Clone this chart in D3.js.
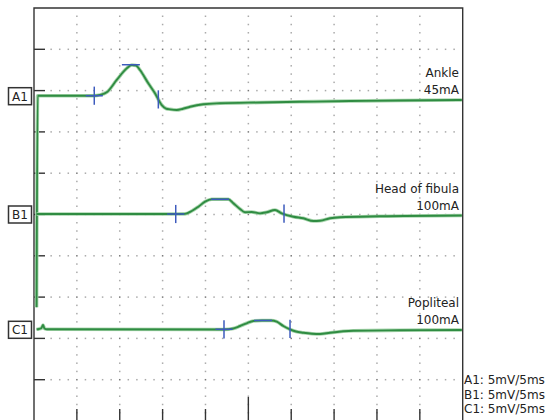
<!DOCTYPE html>
<html>
<head>
<meta charset="utf-8">
<script src="https://cdn.jsdelivr.net/npm/d3@7"></script>
<style>
  html, body { margin: 0; padding: 0; background: #fff; }
  svg { display: block; }
  text { font-family: "DejaVu Sans", Verdana, sans-serif; fill: #222; }
</style>
</head>
<body>
<svg id="chart" width="549" height="420"></svg>
<script>
// ---- Recorded waveforms: [time (ms), amplitude (mV)] ----
const ankleTrace = [
  [0.30, -25.6], [0.42, 0], [5.4, 0], [7.0, 0], [7.7, 0.1], [8.48, 0.41],
  [9.65, 1.91], [10.81, 3.31], [11.4, 3.71], [11.9, 3.66], [12.36, 3.11],
  [13.33, 1.5], [14.11, 0.29], [14.9, -1.13], [15.4, -1.55], [15.86, -1.65],
  [16.65, -1.74], [17.38, -1.58], [18.2, -1.34], [19.75, -1.04], [21.7, -0.92],
  [26.4, -0.82], [31.0, -0.74], [36.9, -0.65], [42.7, -0.58], [49.9, -0.52]
];
const fibulaTrace = [
  [0.3, 0], [16.53, 0], [17.61, 0.02], [18.4, 0.36], [19.17, 0.88],
  [19.95, 1.49], [20.73, 1.78], [22.67, 1.78], [23.25, 1.30], [24.03, 0.61],
  [24.61, 0.21], [25.39, 0.24], [26.36, 0.08], [27.14, 0.21], [28.11, 0.48],
  [28.89, 0.08], [30.25, -0.33], [31.41, -0.52], [32.58, -0.85], [33.36, -0.82],
  [34.53, -0.52], [35.69, -0.40], [40.36, -0.28], [49.9, -0.18]
];
const poplitealTrace = [
  [0.3, 0], [0.58, 0.04], [0.87, 0.16], [1.05, 0.52], [1.22, 0.1], [1.52, 0],
  [22.16, -0.02], [23.25, 0.10], [24.03, 0.40], [24.81, 0.73], [25.58, 1.01],
  [26.6, 1.07], [27.65, 1.07], [28.31, 0.92], [29.08, 0.40], [29.86, 0],
  [30.56, -0.27], [31.41, -0.41], [32.43, -0.53], [33.36, -0.57], [34.53, -0.41],
  [37.25, -0.18], [42.69, -0.12], [49.9, -0.08]
];

// ---- Cursor markers per channel: [time (ms), amplitude (mV)] ----
const onsetMarkers = [[7.03, 0], [16.53, 0], [22.16, 0]];
const peakMarkers  = [[11.3, 3.75], [21.7, 1.78], [26.71, 1.07]];
const endMarkers   = [[14.5, -0.45], [29.16, 0.04], [29.86, 0.06]];

// ---- Labels ----
const channelIds  = ["A1", "B1", "C1"];
const siteNames   = ["Ankle", "Head of fibula", "Popliteal"];
const stimLevels  = ["45mA", "100mA", "100mA"];
const gainLabels  = ["A1: 5mV/5ms", "B1: 5mV/5ms", "C1: 5mV/5ms"];
const traces      = [ankleTrace, fibulaTrace, poplitealTrace];

// ---- Layout ----
const svg = d3.select("#chart");
const plotLeft = 34, plotRight = 462.7, plotTop = 8, plotBottom = 421;
const divisions = 10;
const divH = (plotBottom - plotTop) / divisions;
const divW = (plotRight - plotLeft) / divisions;
const sweepMs = 50, mvPerDiv = 5;
const channelZero = [95.7, 214, 329.3];

const x = d3.scaleLinear().domain([0, sweepMs]).range([plotLeft, plotRight]);
const yScales = channelZero.map(z =>
  d3.scaleLinear().domain([0, mvPerDiv]).range([z, z - divH]));

// Dotted graticule: 5 minor dots per division
const gridG = svg.append("g");
for (let i = 1; i < divisions; i++) {
  const gx = plotLeft + i * divW;
  for (let j = 0; j <= divisions * 5; j++) {
    const gy = plotTop + j * divH / 5;
    if (gy <= plotTop + 1 || gy >= 420) continue;
    const major = j % 5 === 0;
    gridG.append("rect").attr("x", gx - 0.75).attr("y", gy - 0.75)
      .attr("width", 1.5).attr("height", 1.5)
      .attr("fill", major ? "#777" : "#aaa");
  }
}
for (let j = 1; j < divisions; j++) {
  const gy = plotTop + j * divH;
  for (let i = 1; i < divisions * 5; i++) {
    if (i % 5 === 0) continue;
    const gx = plotLeft + i * divW / 5;
    if (gx < plotLeft + 12) continue;
    gridG.append("rect").attr("x", gx - 0.75).attr("y", gy - 0.75)
      .attr("width", 1.5).attr("height", 1.5).attr("fill", "#aaa");
  }
}

// Frame
const frame = svg.append("g").attr("stroke", "#333").attr("fill", "none");
frame.append("path").attr("stroke-width", 1.4)
  .attr("d", `M${plotLeft},${plotBottom}V${plotTop}H${plotRight}V${plotBottom}H${plotLeft}`);

// Left ticks on each horizontal division
for (let j = 1; j < divisions; j++) {
  const gy = plotTop + j * divH;
  frame.append("line").attr("x1", plotLeft).attr("x2", plotLeft + 11)
    .attr("y1", gy).attr("y2", gy).attr("stroke-width", 1.4);
}
// Bottom ticks, centre tick longer
for (let i = 1; i < divisions; i++) {
  const gx = plotLeft + i * divW;
  frame.append("line").attr("x1", gx).attr("x2", gx)
    .attr("y1", i === 5 ? plotBottom - 24 : plotBottom - 12).attr("y2", plotBottom)
    .attr("stroke-width", 1.4);
}

// Traces
svg.append("clipPath").attr("id", "plotClip")
  .append("rect").attr("x", plotLeft).attr("y", plotTop)
  .attr("width", plotRight - plotLeft).attr("height", plotBottom - plotTop);
const traceG = svg.append("g").attr("clip-path", "url(#plotClip)");
traces.forEach((tr, k) => {
  const line = d3.line()
    .x(d => x(d[0])).y(d => yScales[k](d[1]))
    .curve(d3.curveMonotoneX);
  traceG.append("path").datum(tr).attr("d", line)
    .attr("fill", "none").attr("stroke", "#a8d5ad").attr("stroke-width", 3.6)
    .attr("stroke-linejoin", "round");
  traceG.append("path").datum(tr).attr("d", line)
    .attr("fill", "none").attr("stroke", "#2f8c42").attr("stroke-width", 1.9)
    .attr("stroke-linejoin", "round");
});

// Cursors
const markG = svg.append("g").attr("stroke", "#3d5bbd").attr("stroke-width", 1.5);
const halfW = 1.0, halfV = 1.1;
onsetMarkers.forEach((m, k) => {
  const y = yScales[k];
  markG.append("line").attr("x1", x(m[0] - halfW)).attr("x2", x(m[0] + halfW))
    .attr("y1", y(m[1])).attr("y2", y(m[1]));
  markG.append("line").attr("x1", x(m[0])).attr("x2", x(m[0]))
    .attr("y1", y(m[1] + halfV)).attr("y2", y(m[1] - halfV));
});
peakMarkers.forEach((m, k) => {
  const y = yScales[k];
  markG.append("line").attr("x1", x(m[0] - 1.05)).attr("x2", x(m[0] + 1.05))
    .attr("y1", y(m[1])).attr("y2", y(m[1]));
});
endMarkers.forEach((m, k) => {
  const y = yScales[k];
  markG.append("line").attr("x1", x(m[0])).attr("x2", x(m[0]))
    .attr("y1", y(m[1] + halfV)).attr("y2", y(m[1] - halfV));
});

// Channel id boxes
channelIds.forEach((id, k) => {
  const cy = channelZero[k] + 0.5;
  svg.append("rect").attr("x", 8.5).attr("y", cy - 8.5)
    .attr("width", 23).attr("height", 17)
    .attr("fill", "#fff").attr("stroke", "#333").attr("stroke-width", 1.5);
  svg.append("text").attr("x", 20).attr("y", cy + 4.5)
    .attr("text-anchor", "middle").attr("font-size", 12).text(id);
});

// Site and stimulus labels
const siteBaselines = [77.3, 192.7, 307.3];
siteNames.forEach((name, k) => {
  svg.append("text").attr("x", 459).attr("y", siteBaselines[k])
    .attr("text-anchor", "end").attr("font-size", 12).text(name);
  svg.append("text").attr("x", 459).attr("y", siteBaselines[k] + 17)
    .attr("text-anchor", "end").attr("font-size", 12).text(stimLevels[k]);
});

// Gain / sweep settings
gainLabels.forEach((g, k) => {
  svg.append("text").attr("x", 464).attr("y", 384.3 + k * 14.5)
    .attr("font-size", 12).text(g);
});
</script>
</body>
</html>
